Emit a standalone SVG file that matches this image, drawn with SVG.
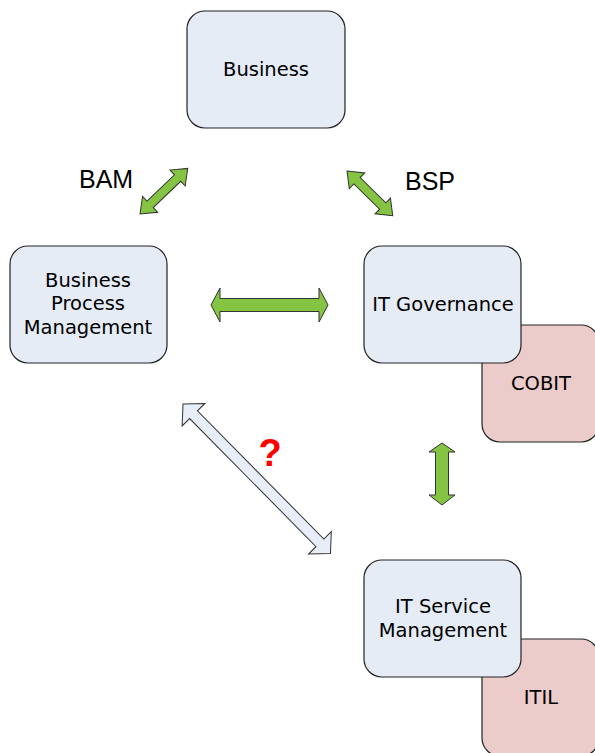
<svg xmlns="http://www.w3.org/2000/svg" width="595" height="753" viewBox="0 0 595 753">
<style>
.node{fill:#e6ecf6;stroke:#222;stroke-width:1.2}
.tool{fill:#ecccca;stroke:#222;stroke-width:1.2}
.t{font-family:"DejaVu Sans",Verdana,sans-serif;font-size:19.5px;fill:#000;text-anchor:middle}
.lab{font-family:"Liberation Sans",Arial,sans-serif;font-size:25px;fill:#000}
.g{fill:#85c443;stroke:#333;stroke-width:1}
.p{fill:#e8eef8;stroke:#333;stroke-width:1}
</style>
<rect width="595" height="753" fill="#fff"/>
<g id="business"><rect class="node" x="187" y="11" width="158" height="117" rx="18"/><text class="t" x="266" y="76">Business</text></g>
<g id="bpm"><rect class="node" x="10" y="246" width="157" height="117" rx="18"/><text class="t" x="88" y="287">Business</text><text class="t" x="88" y="310">Process</text><text class="t" x="88" y="334">Management</text></g>
<g id="cobit"><rect class="tool" x="482" y="325" width="117" height="117" rx="18"/><text class="t" x="541" y="390">COBIT</text></g>
<g id="itgov"><rect class="node" x="364" y="246" width="157" height="117" rx="18"/><text class="t" x="443" y="311">IT Governance</text></g>
<g id="itil"><rect class="tool" x="482" y="639" width="117" height="117" rx="18"/><text class="t" x="541" y="704">ITIL</text></g>
<g id="itsm"><rect class="node" x="364" y="560" width="157" height="117" rx="18"/><text class="t" x="443" y="613">IT Service</text><text class="t" x="443" y="637">Management</text></g>
<g id="connectors">
<polygon class="g" transform="translate(140,214) rotate(-43.7)" points="0,0 14,-11 14,-4.5 52,-4.5 52,-11 66,0 52,11 52,4.5 14,4.5 14,11"/>
<polygon class="g" transform="translate(347,171) rotate(44.4)" points="0,0 14,-11 14,-4.5 50,-4.5 50,-11 64,0 50,11 50,4.5 14,4.5 14,11"/>
<polygon class="g" points="211,305 220,288 220,298.5 319,298.5 319,288 328,305 319,322 319,311.5 220,311.5 220,322"/>
<polygon class="g" points="442,443 455,452 448.5,452 448.5,495 455,495 442,505 429,495 435.5,495 435.5,452 429,452"/>
<polygon class="p" transform="translate(183,404) rotate(45.4)" points="0,0 15,-16 15,-5.5 195,-5.5 195,-16 210,0 195,16 195,5.5 15,5.5 15,16"/>
</g>
<text class="lab" x="79" y="188">BAM</text>
<text class="lab" x="405" y="190">BSP</text>
<text x="270" y="466" font-family="Liberation Sans,Arial,sans-serif" font-size="38" font-weight="bold" fill="#ff0000" text-anchor="middle">?</text>
</svg>
